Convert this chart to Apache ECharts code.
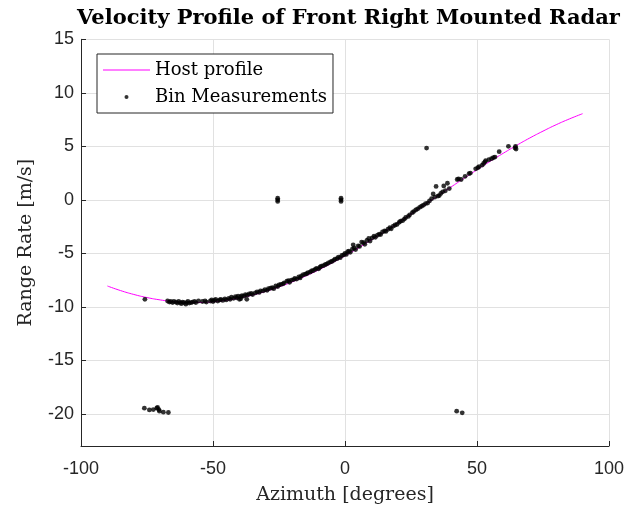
<!DOCTYPE html>
<html><head><meta charset="utf-8">
<script src="https://cdn.jsdelivr.net/npm/echarts@6/dist/echarts.min.js"></script>
<style>html,body{margin:0;padding:0;background:#fff}#c{width:628px;height:510px}</style>
</head><body><div id="c"></div>
<script>
// Host profile (azimuth deg, range rate m/s)
const hostAz = [-90,-85,-80,-75,-70,-65,-60,-55,-50,-45,-40,-35,-30,-25,-20,-15,-10,-5,0,5,10,15,20,25,30,35,40,45,50,55,60,65,70,75,80,85,90];
const hostRate = [-8.05,-8.48,-8.84,-9.13,-9.35,-9.51,-9.59,-9.59,-9.53,-9.39,-9.18,-8.90,-8.55,-8.14,-7.67,-7.13,-6.55,-5.91,-5.23,-4.51,-3.75,-2.97,-2.16,-1.34,-0.50,0.34,1.17,2.00,2.81,3.60,4.36,5.09,5.78,6.42,7.02,7.56,8.05];

// Bin measurements [azimuth, range rate]
const binMain = [
[-67.2,-9.45],[-66.5,-9.55],[-66,-9.5],[-65.3,-9.6],[-64.8,-9.5],[-64,-9.55],[-63.5,-9.65],[-63,-9.5],[-62.4,-9.6],[-62,-9.7],[-61.5,-9.55],[-61,-9.6],[-60.3,-9.75],[-60,-9.6],[-59.5,-9.5],[-59,-9.65],[-58.3,-9.6],[-57.8,-9.55],[-57,-9.5],[-56.5,-9.6],[-55.5,-9.45],
[-54,-9.5],[-53,-9.45],[-52.5,-9.55],[-51,-9.45],[-50.5,-9.35],[-50,-9.5],[-49.5,-9.4],[-49,-9.3],[-48.2,-9.45],[-47.5,-9.35],[-47,-9.3],[-46.3,-9.4],[-45.5,-9.25],[-45,-9.35],
[-44,-9.2],[-43.5,-9.3],[-43,-9.1],[-42.2,-9.2],[-41.5,-9.05],[-41,-9.15],[-40.5,-9.0],[-40,-9.3],[-39.5,-9.05],[-39.5,-9.25],[-39,-8.95],[-38.3,-9.0],[-37.7,-8.85],[-37.2,-9.3],[-37,-8.9],[-36.3,-8.8],[-35.5,-8.75],[-35,-8.85],
[-34,-8.7],[-33.3,-8.6],[-32.5,-8.65],[-32,-8.5],[-31,-8.5],[-30.3,-8.4],[-29.5,-8.45],[-29,-8.3],[-28.2,-8.25],[-27.5,-8.2],[-27,-8.3],[-26.2,-8.05],[-25.5,-8.1],[-25,-7.95],[-24.3,-7.9],[-23.5,-7.85],[-23,-7.75],[-22,-7.6],[-21.4,-7.55],[-21,-7.7],[-20.3,-7.5],
[-19.5,-7.45],[-19,-7.35],[-18.3,-7.4],[-17.5,-7.2],[-17,-7.3],[-16.5,-7.1],[-15.8,-7.0],[-15,-6.95],[-14.5,-6.9],[-14,-6.8],[-13.2,-6.75],[-12.7,-6.65],[-12,-6.6],[-11.3,-6.5],[-10.8,-6.4],[-10,-6.45],[-9.5,-6.3],[-9,-6.2],[-8.2,-6.15],[-7.5,-6.05],[-7,-6.0],[-6.3,-5.9],[-5.5,-5.8],[-5,-5.75],
[-4.3,-5.65],[-3.8,-5.55],[-3,-5.5],[-2.5,-5.35],[-1.8,-5.4],[-1.2,-5.2],[-0.5,-5.15],[0,-5.0],[0.5,-5.1],[1,-4.85],[1.5,-4.8],[2,-4.9],[2.8,-4.6],[3.1,-4.2],[3.5,-4.5],[4,-4.65],[5,-4.3],[5.5,-4.35],[6.3,-3.95],[7,-4.0],[7.5,-4.15],[8.3,-3.8],[9,-3.6],[9.5,-3.85],[10.3,-3.55],
[11,-3.4],[11.5,-3.5],[12.3,-3.3],[13,-3.2],[13.5,-3.25],[14.2,-3.0],[15,-2.9],[15.5,-2.95],[16.3,-2.75],[17,-2.6],[17.5,-2.7],[18.3,-2.45],[19,-2.35],[19.7,-2.3],[20.5,-2.1],[21,-2.0],[21.8,-1.95],[22.5,-1.8],[23,-1.65],[24,-1.55],[24.5,-1.4],
[25.5,-1.2],[26,-1.1],[26.8,-0.95],[27.5,-0.85],[28.3,-0.7],[29,-0.6],[29.7,-0.5],[30.5,-0.35],[31.3,-0.3],[32,-0.1],[32.8,0.1],[33.4,0.55],[34,0.25],[34.5,1.25],[35.2,0.35],[35.7,0.4],[36.3,0.6],[37,0.75],[37.4,1.3],[38,0.85],[38.8,1.55],[39.5,1.05],
[42.5,1.9],[43,1.95],[44,1.9],[45.5,2.2],[47,2.45],[47.5,2.5],[49.5,2.9],[50.3,3.0],[50.8,3.1],[52,3.25],[52.5,3.4],[53,3.55],[53.3,3.65],[54.5,3.75],[55.5,3.85],[56.2,3.95],[56.8,4.0],[58.4,4.5],[61.9,5.0],[64.4,4.85],[64.6,5.0],[64.8,4.75]
];
const binOutliers = [
[-75.8,-9.3],[-25.5,-0.15],[-25.5,0.0],[-25.5,0.15],[-1.5,-0.15],[-1.5,0.0],[-1.5,0.15],[30.9,4.84],
[-76.0,-19.47],[-74.1,-19.63],[-72.6,-19.6],[-71.3,-19.47],[-71.0,-19.4],[-70.5,-19.6],[-70.3,-19.75],[-68.8,-19.84],[-66.9,-19.87],
[42.3,-19.75],[44.4,-19.9]
];
const xTicks = [-100,-50,0,50,100];
const yTicks = [-20,-15,-10,-5,0,5,10,15];

const serif = 'DejaVu Serif';
const sans = 'Liberation Sans';
const chart = echarts.init(document.getElementById('c'));
chart.setOption({
  animation: false,
  backgroundColor: '#fff',
  title: {
    text: 'Velocity Profile of Front Right Mounted Radar',
    left: 72, top: 3,
    textStyle: {fontFamily: serif, fontWeight: 'bold', fontSize: 21, color: '#000'}
  },
  legend: {
    orient: 'vertical', left: 97, top: 54,
    padding: [5, 6, 5, 6], itemGap: 5, itemWidth: 47, itemHeight: 4,
    backgroundColor: '#fff', borderColor: '#262626', borderWidth: 1, borderRadius: 0,
    textStyle: {fontFamily: serif, fontSize: 18, color: '#000', lineHeight: 22},
    data: [
      {name: 'Host profile', icon: 'path://M0,0 L47,0 L47,1 L0,1 Z', itemStyle: {color: '#ff00ff'}},
      {name: 'Bin Measurements', icon: 'circle'}
    ]
  },
  grid: {left: 81, right: 19, top: 39.3, bottom: 63.3, containLabel: false},
  xAxis: {
    type: 'value', min: -100, max: 100, interval: 50,
    name: 'Azimuth [degrees]', nameLocation: 'middle', nameGap: 40,
    nameTextStyle: {fontFamily: serif, fontSize: 19, color: '#262626'},
    axisLine: {show: true, onZero: false, lineStyle: {color: '#262626', width: 1}},
    axisTick: {show: true, inside: true, length: 5, lineStyle: {color: '#262626'}},
    axisLabel: {fontFamily: sans, fontSize: 18, color: '#262626', margin: 14},
    splitLine: {show: true, lineStyle: {color: '#e1e1e1', width: 1}}
  },
  yAxis: {
    type: 'value', min: -23, max: 15,
    name: 'Range Rate [m/s]', nameLocation: 'middle', nameGap: 45,
    nameTextStyle: {fontFamily: serif, fontSize: 19, color: '#262626'},
    axisLine: {show: true, onZero: false, lineStyle: {color: '#262626', width: 1}},
    axisTick: {show: true, inside: true, length: 5, customValues: yTicks, lineStyle: {color: '#262626'}},
    axisLabel: {fontFamily: sans, fontSize: 18, color: '#262626', margin: 7, customValues: yTicks},
    splitLine: {show: true, lineStyle: {color: '#e1e1e1', width: 1}}
  },
  series: [
    {
      name: 'Host profile', type: 'line', smooth: true, symbol: 'none',
      data: hostAz.map((a, i) => [a, hostRate[i]]),
      lineStyle: {color: '#ff00ff', width: 1}, itemStyle: {color: '#ff00ff'}, z: 2
    },
    {
      name: 'Bin Measurements', type: 'scatter', symbolSize: 4.8,
      data: binMain.concat(binOutliers),
      itemStyle: {color: '#000'}, z: 3
    }
  ]
});
</script>
</body></html>
